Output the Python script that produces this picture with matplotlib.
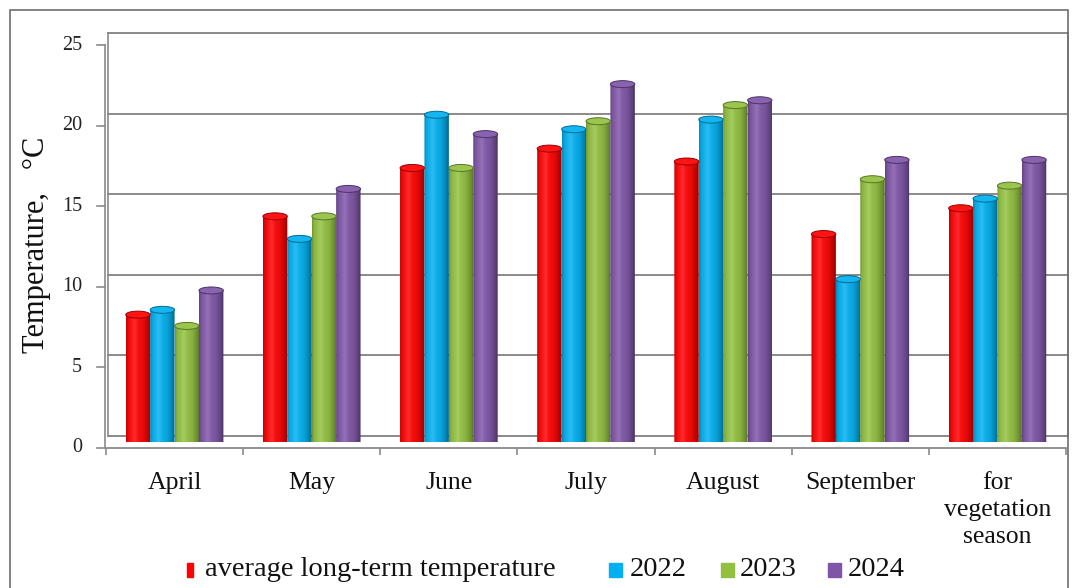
import numpy as np
import matplotlib
matplotlib.use("Agg")
import matplotlib.pyplot as plt
from matplotlib.colors import to_rgb
from matplotlib.patches import Ellipse, PathPatch, Rectangle
from matplotlib.path import Path
from matplotlib.transforms import ScaledTranslation

plt.rcParams['font.family'] = ['Liberation Serif', 'DejaVu Serif']

months = ["April", "May", "June", "July", "August", "September",
          "for\nvegetation\nseason"]
series_names = ["average long-term temperature", "2022", "2023", "2024"]
long_term = [7.9, 14.0, 17.0, 18.2, 17.4, 12.9, 14.5]
t2022 = [8.2, 12.6, 20.3, 19.4, 20.0, 10.1, 15.1]
t2023 = [7.2, 14.0, 17.0, 19.9, 20.9, 16.3, 15.9]
t2024 = [9.4, 15.7, 19.1, 22.2, 21.2, 17.5, 17.5]
yticks = [0, 5, 10, 15, 20, 25]

colors = ["#ff0000", "#00b0f0", "#92c13f", "#7f55a8"]
series = [long_term, t2022, t2023, t2024]

W, H, DPI = 1075, 588, 100
fig = plt.figure(figsize=(W / DPI, H / DPI), dpi=DPI)
ax = fig.add_axes([106 / W, (H - 442) / H, 960 / W, 403 / H])
ax.set_xlim(-0.5, 6.5)
ax.set_ylim(0, 25)

# depth offsets: back wall up/right, front edge down/left
back = ax.transData + ScaledTranslation(2 / DPI, 6 / DPI, fig.dpi_scale_trans)
front = ax.transData + ScaledTranslation(-1 / DPI, -6 / DPI, fig.dpi_scale_trans)
grid_c = "#8a8a8a"

for v in yticks:
    ax.plot([-0.5, 6.5], [v, v], color=grid_c, lw=1.4, transform=back,
            zorder=1, clip_on=False)
for xe in (-0.5, 6.5):
    ax.plot([xe, xe], [0, 25], color=grid_c, lw=1.2, transform=back,
            zorder=1, clip_on=False)
ax.plot([-0.5, -0.5], [0, 25], color=grid_c, lw=1.2, transform=front,
        zorder=1, clip_on=False)

# y ticks and labels on the front edge
tick_len = 8 / 137.0
for v in yticks:
    ax.plot([-0.5 - tick_len, -0.5], [v, v], color=grid_c, lw=1.2,
            transform=front, clip_on=False)
    ax.text(-0.5, v, str(v), ha="right", va="center", fontsize=14.5,
            color="#222222",
            transform=ax.transData + ScaledTranslation(-24 / DPI, -6 / DPI,
                                                       fig.dpi_scale_trans))

for s in ("left", "right", "top"):
    ax.spines[s].set_visible(False)
ax.spines["bottom"].set_position(("outward", 6 * 0.72))
ax.spines["bottom"].set_color(grid_c)
ax.spines["bottom"].set_linewidth(1.3)
ax.set_yticks([])
ax.set_xticks(range(len(months)))
ax.set_xticklabels(months, fontsize=18.5, color="#111111", linespacing=1.3)
ax.set_xticks(np.arange(-0.5, 7, 1), minor=True)
ax.tick_params(axis="x", which="major", length=0, pad=17)
ax.tick_params(axis="x", which="minor", length=5, width=1.2, color=grid_c)
ax.patch.set_visible(False)

# cylinder shading across the bar width
tt = np.linspace(0, 1, 80)
bright = np.interp(tt, [0, 0.1, 0.35, 0.7, 0.9, 1.0],
                   [0.78, 0.93, 1.0, 0.9, 0.72, 0.56])
white = np.interp(tt, [0, 0.2, 0.35, 0.5, 1.0], [0, 0.08, 0.17, 0.06, 0])

bw = 0.178
eh = 3.5 / 16.12


def cylinder(x, h, color):
    c = np.array(to_rgb(color))
    row = c[None, :] * bright[:, None] * (1 - white[:, None]) + white[:, None]
    img = np.clip(np.stack([row, row]), 0, 1)
    x0, x1 = x - bw / 2, x + bw / 2
    im = ax.imshow(img, extent=(x0, x1, -eh, h), aspect="auto",
                   origin="lower", interpolation="bilinear", zorder=3)
    ang = np.linspace(0, np.pi, 40)
    bottom = np.column_stack([x + bw / 2 * np.cos(ang), -eh * np.sin(ang)])
    verts = np.vstack([[x0, h], [x1, h], bottom, [x0, h]])
    clip = PathPatch(Path(verts), transform=ax.transData, fc="none",
                     ec="none")
    ax.add_patch(clip)
    im.set_clip_path(clip)
    cap = c * 0.92 + 0.08
    ax.add_patch(Ellipse((x, h), bw, 2 * eh, facecolor=cap,
                         edgecolor=c * 0.6, lw=0.7, zorder=4))


for j, (vals, col) in enumerate(zip(series, colors)):
    for i, v in enumerate(vals):
        cylinder(i + (j - 1.5) * bw, v, col)

ax.set_xlim(-0.5, 6.5)
ax.set_ylim(0, 25)

fig.text(37 / W, 1 - 245 / H, "Temperature,   °C", rotation=90, ha="center",
         va="center", fontsize=22, color="#111111")

# legend
leg = [(187, 6, 205), (609, 13, 630), (721, 13, 740), (828, 13, 848)]
for (mx, mw, tx), name, col in zip(leg, series_names, colors):
    fig.add_artist(Rectangle((mx / W, 1 - 577 / H), mw / W, 14 / H,
                             transform=fig.transFigure, color=col))
    fig.text(tx / W, 1 - 570 / H, name, ha="left", va="center",
             fontsize=20.5, color="#111111")

fig.add_artist(Rectangle((10 / W, -0.05), 1058 / W, 1 - 10 / H + 0.05,
                         transform=fig.transFigure, fill=False,
                         ec="#6e6e6e", lw=1.2))

fig.savefig("out.png", dpi=DPI)
